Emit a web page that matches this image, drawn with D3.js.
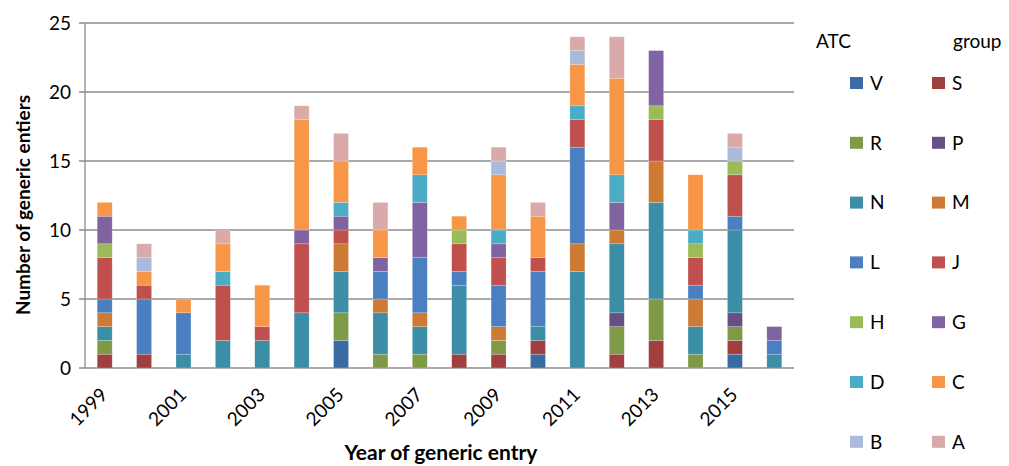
<!DOCTYPE html>
<html>
<head>
<meta charset="utf-8">
<script src="https://cdn.jsdelivr.net/npm/d3@7"></script>
<style>
  body { margin: 0; background: #fff; }
  text { font-family: Lato, "Open Sans", sans-serif; fill: #000; }
</style>
</head>
<body>
<script>
// years on the x axis
var years = [1999, 2000, 2001, 2002, 2003, 2004, 2005, 2006, 2007, 2008,
             2009, 2010, 2011, 2012, 2013, 2014, 2015, 2016];

// generic entries per ATC group, one value per year
var V = [0,0,0,0,0,0,2,0,0,0,0,1,0,0,0,0,1,0];
var S = [1,1,0,0,0,0,0,0,0,1,1,1,0,1,2,0,1,0];
var R = [1,0,0,0,0,0,2,1,1,0,1,0,0,2,3,1,1,0];
var P = [0,0,0,0,0,0,0,0,0,0,0,0,0,1,0,0,1,0];
var N = [1,0,1,2,2,4,3,3,2,5,0,1,7,5,7,2,6,1];
var M = [1,0,0,0,0,0,2,1,1,0,1,0,2,1,3,2,0,0];
var L = [1,4,3,0,0,0,0,2,4,1,3,4,7,0,0,1,1,1];
var J = [3,1,0,4,1,5,1,0,0,2,2,1,2,0,3,2,3,0];
var H = [1,0,0,0,0,0,0,0,0,1,0,0,0,0,1,1,1,0];
var G = [2,0,0,0,0,1,1,1,4,0,1,0,0,2,4,0,0,1];
var D = [0,0,0,1,0,0,1,0,2,0,1,0,1,2,0,1,0,0];
var C = [1,1,1,2,3,8,3,2,2,1,4,3,3,7,0,4,0,0];
var B = [0,1,0,0,0,0,0,0,0,0,1,0,1,0,0,0,1,0];
var A = [0,1,0,1,0,1,2,2,0,0,1,1,1,3,0,0,1,0];

var groups = ["V","S","R","P","N","M","L","J","H","G","D","C","B","A"];
var seriesValues = {V:V,S:S,R:R,P:P,N:N,M:M,L:L,J:J,H:H,G:G,D:D,C:C,B:B,A:A};
var colors = ["#3A6BA3","#A0403E","#7E9A46","#664F84","#3B8EA5","#CD7A35","#4A80C2",
              "#C0504D","#9BBB59","#8064A2","#4BACC6","#F79646","#A9BADB","#D9AAA9"];
var yTicks = [0, 5, 10, 15, 20, 25];
var xLabelYears = [1999, 2001, 2003, 2005, 2007, 2009, 2011, 2013, 2015];

var w = 1009;
var h = 466;

var svg = d3.select('body')
            .append('svg')
            .attr('width', w)
            .attr('height', h);

// build the table for d3.stack
var table = years.map(function(y, i) {
  var row = {year: y};
  groups.forEach(function(g) { row[g] = seriesValues[g][i]; });
  return row;
});

var x = d3.scaleBand()
          .domain(years)
          .range([85, 794])
          .paddingInner(0.62)
          .paddingOuter(0.31);

var y = d3.scaleLinear()
          .domain([0, 25])
          .range([368, 23]);

var color = d3.scaleOrdinal().domain(groups).range(colors);

// gridlines
svg.append('g')
   .selectAll('line')
   .data(yTicks)
   .enter()
   .append('line')
   .attr('x1', 79)
   .attr('x2', 794)
   .attr('y1', function(d) { return y(d); })
   .attr('y2', function(d) { return y(d); })
   .attr('stroke', '#8c8c8c')
   .attr('stroke-width', 1.3);

// y axis line
svg.append('line')
   .attr('x1', 85).attr('x2', 85)
   .attr('y1', y(25)).attr('y2', y(0))
   .attr('stroke', '#8c8c8c')
   .attr('stroke-width', 1.3);

// y tick labels
svg.append('g')
   .selectAll('text')
   .data(yTicks)
   .enter()
   .append('text')
   .attr('x', 71)
   .attr('y', function(d) { return y(d); })
   .attr('dy', '0.36em')
   .attr('text-anchor', 'end')
   .style('font-size', '19px')
   .text(function(d) { return d; });

// stacked bars
var stacked = d3.stack().keys(groups)(table);

svg.append('g')
   .selectAll('g')
   .data(stacked)
   .enter()
   .append('g')
   .attr('fill', function(d) { return color(d.key); })
   .selectAll('rect')
   .data(function(d) { return d; })
   .enter()
   .append('rect')
   .attr('x', function(d) { return x(d.data.year); })
   .attr('width', x.bandwidth())
   .attr('y', function(d) { return y(d[1]); })
   .attr('height', function(d) { return y(d[0]) - y(d[1]); })
   .attr('stroke', 'rgba(255,255,255,0.35)')
   .attr('stroke-width', 0.6);

// x tick labels, rotated
svg.append('g')
   .selectAll('text')
   .data(xLabelYears)
   .enter()
   .append('text')
   .attr('transform', function(d) {
     var cx = x(d) + x.bandwidth() / 2;
     return 'translate(' + (cx + 4) + ',396) rotate(-45)';
   })
   .attr('text-anchor', 'end')
   .style('font-size', '19px')
   .text(function(d) { return d; });

// axis titles
svg.append('text')
   .attr('x', 441)
   .attr('y', 460)
   .attr('text-anchor', 'middle')
   .style('font-size', '21px')
   .style('font-weight', 'bold')
   .text('Year of generic entry');

svg.append('text')
   .attr('transform', 'translate(30,205) rotate(-90)')
   .attr('text-anchor', 'middle')
   .style('font-size', '19px')
   .style('font-weight', 'bold')
   .text('Number of generic entiers');

// legend
svg.append('text')
   .attr('x', 816).attr('y', 48)
   .style('font-size', '19px')
   .text('ATC');

svg.append('text')
   .attr('x', 953).attr('y', 48)
   .style('font-size', '19px')
   .text('group');

var legend = svg.append('g')
   .selectAll('g')
   .data(groups)
   .enter()
   .append('g')
   .attr('transform', function(d, i) {
     var col = i % 2;
     var row = Math.floor(i / 2);
     return 'translate(' + (850 + col * 82) + ',' + (83 + row * 59.8) + ')';
   });

legend.append('rect')
   .attr('x', 0).attr('y', -6)
   .attr('width', 13).attr('height', 12)
   .attr('fill', function(d) { return color(d); });

legend.append('text')
   .attr('x', 20)
   .attr('y', 0)
   .attr('dy', '0.36em')
   .style('font-size', '19px')
   .text(function(d) { return d; });
</script>
</body>
</html>
